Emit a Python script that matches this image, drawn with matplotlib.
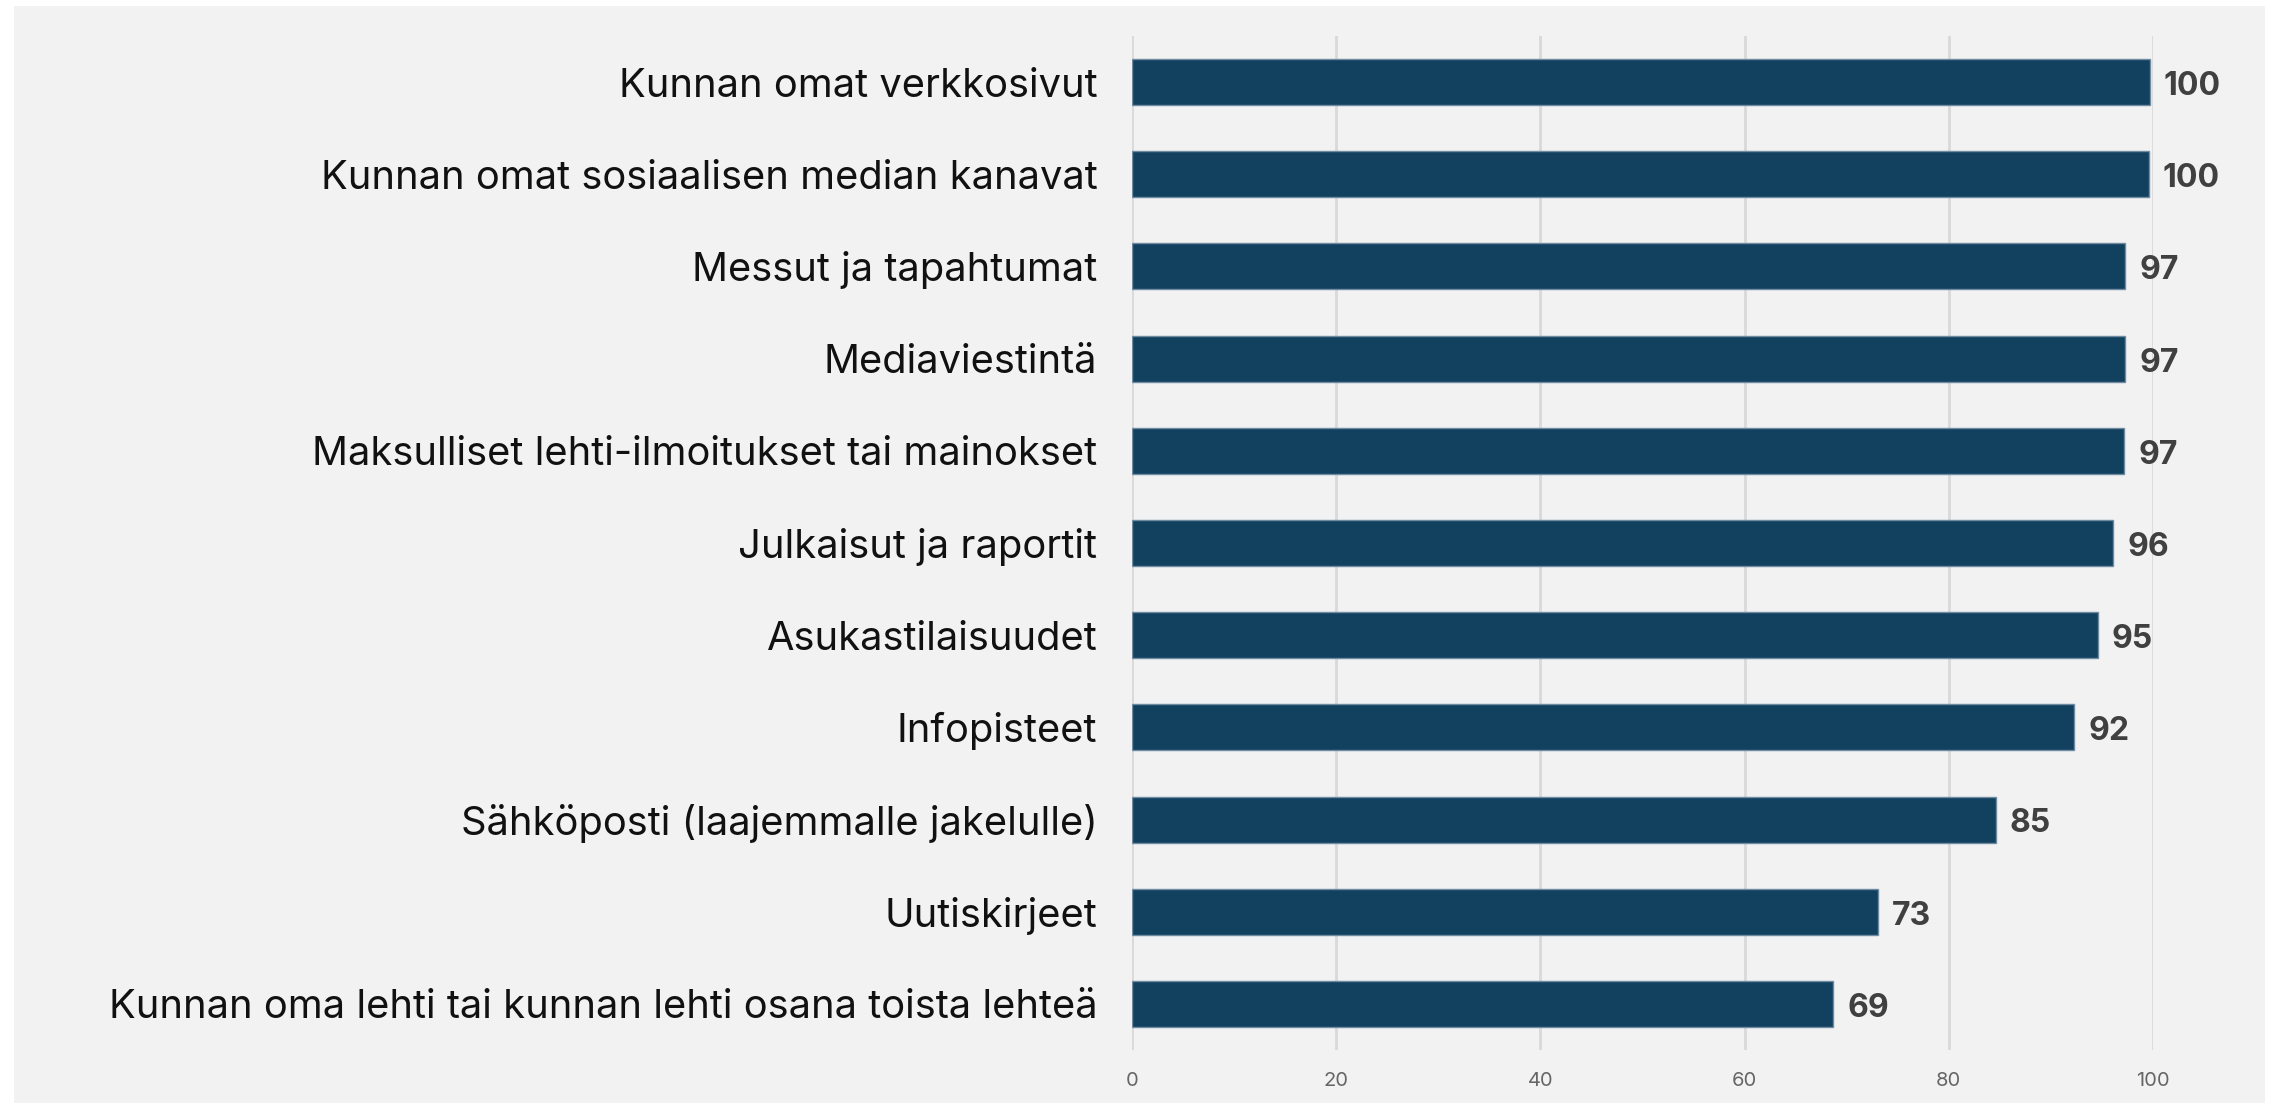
import matplotlib
matplotlib.use("Agg")
import matplotlib.pyplot as plt
from matplotlib.patches import Rectangle

# data (top to bottom)
kategoriat = [
    "Kunnan omat verkkosivut",
    "Kunnan omat sosiaalisen median kanavat",
    "Messut ja tapahtumat",
    "Mediaviestintä",
    "Maksulliset lehti-ilmoitukset tai mainokset",
    "Julkaisut ja raportit",
    "Asukastilaisuudet",
    "Infopisteet",
    "Sähköposti (laajemmalle jakelulle)",
    "Uutiskirjeet",
    "Kunnan oma lehti tai kunnan lehti osana toista lehteä",
]
arvot = [99.7, 99.6, 97.3, 97.3, 97.2, 96.1, 94.6, 92.3, 84.6, 73.1, 68.7]
x_ticks = [0, 20, 40, 60, 80, 100]

bar_color = "#12415f"
bg_color = "#f2f2f2"

fig = plt.figure(figsize=(22.7, 11.03), dpi=100, facecolor="white")
# grey panel behind the chart
fig.add_artist(Rectangle((14 / 2270, 0), 2251 / 2270, 1097 / 1103,
                         transform=fig.transFigure, facecolor=bg_color,
                         edgecolor="none", zorder=-10))

ax = fig.add_axes([1132 / 2270, 1 - 1050 / 1103, 1021 / 2270, (1050 - 36) / 1103])
ax.set_facecolor("none")

y = list(range(len(kategoriat)))
ax.barh(y, arvot, height=0.5, color=bar_color, edgecolor="#6f8ba2",
        linewidth=1, zorder=3)
for yi, v in zip(y, arvot):
    # baseline placed so the digits sit centred on the bar
    ax.annotate(f"{round(v)}", (v, yi), xytext=(10, -9.3), textcoords="offset points",
                va="baseline", ha="left", fontsize=23, fontweight="bold",
                color="#404040", family="Inter", clip_on=False)

ax.set_xlim(0, 100)
ax.set_ylim(len(kategoriat) - 0.5, -0.5)
ax.set_yticks(y)
ax.set_yticklabels(kategoriat, fontsize=28.7, family="Inter", color="#111111")
ax.set_xticks(x_ticks)
ax.set_xticklabels([str(t) for t in x_ticks], fontsize=14.5, family="Inter",
                   color="#666666")
ax.tick_params(axis="y", length=0, pad=25)
ax.tick_params(axis="x", length=0, pad=16)
ax.grid(axis="x", color="#d9d9d9", linewidth=2, zorder=0)
for s in ax.spines.values():
    s.set_visible(False)

fig.savefig("out.png", dpi=100, facecolor="white")
